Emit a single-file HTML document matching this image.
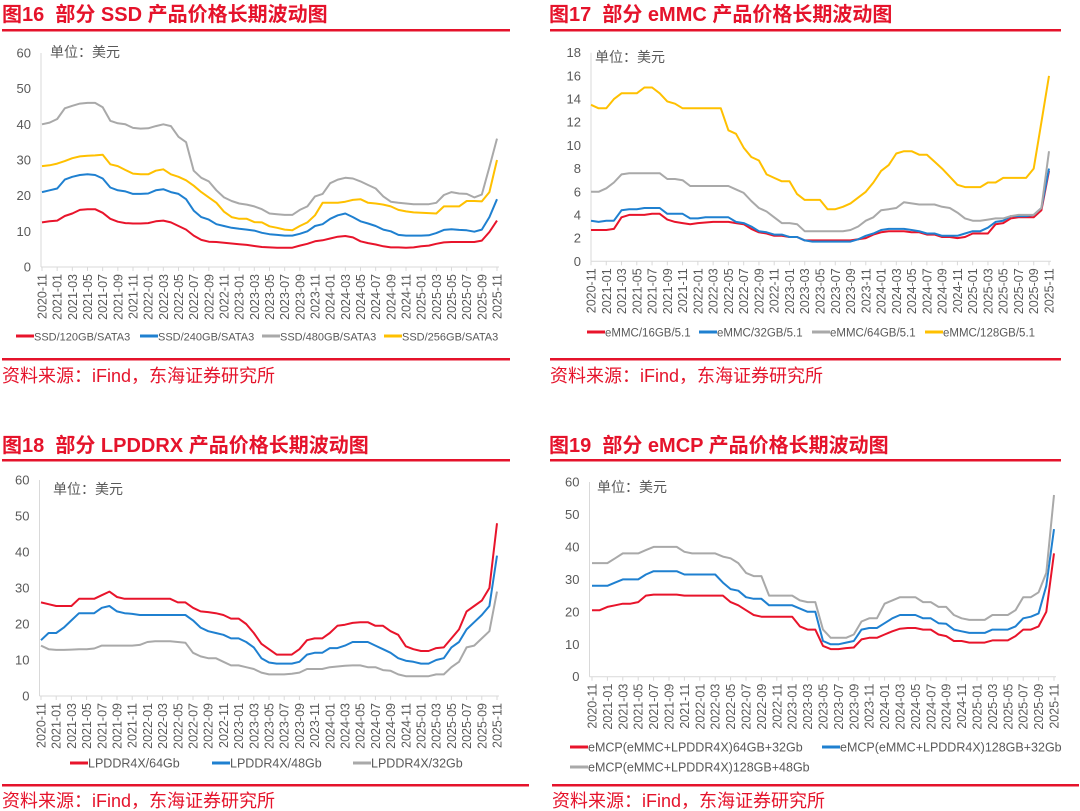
<!DOCTYPE html>
<html><head><meta charset="utf-8">
<style>
body{margin:0;background:#fff;width:1080px;height:811px;overflow:hidden;font-family:"Liberation Sans","Noto Sans CJK SC",sans-serif;}
svg{position:absolute;left:0;top:0;}
</style></head>
<body>
<svg id="svg" width="1080" height="811" viewBox="0 0 1080 811" xmlns="http://www.w3.org/2000/svg">
<g font-family="Liberation Sans, Noto Sans CJK SC, sans-serif" font-weight="bold" font-size="20" fill="#e5132b">
<text x="2" y="21">图16&#160; 部分 SSD 产品价格长期波动图</text>
<text x="549" y="21">图17&#160; 部分 eMMC 产品价格长期波动图</text>
<text x="2" y="452">图18&#160; 部分 LPDDRX 产品价格长期波动图</text>
<text x="549" y="452">图19&#160; 部分 eMCP 产品价格长期波动图</text>
</g>
<g fill="#e5132b">
<rect x="2" y="29" width="508" height="2.5"/>
<rect x="550" y="29" width="511" height="2.5"/>
<rect x="2" y="358" width="508" height="2.5"/>
<rect x="550" y="358" width="511" height="2.5"/>
<rect x="2" y="459" width="508" height="2.5"/>
<rect x="550" y="459" width="511" height="2.5"/>
<rect x="2" y="784" width="527" height="2.5"/>
<rect x="552" y="784" width="527" height="2.5"/>
</g>
<g font-family="Liberation Sans, Noto Sans CJK SC, sans-serif" font-size="18" fill="#e5132b">
<text x="2" y="382">资料来源：iFind，东海证券研究所</text>
<text x="550" y="382">资料来源：iFind，东海证券研究所</text>
<text x="2" y="807">资料来源：iFind，东海证券研究所</text>
<text x="552" y="807">资料来源：iFind，东海证券研究所</text>
</g>
</svg>
<script>
// shared month categories 2020-11 .. 2025-11
const months = [];
for (let y = 2020, m = 11; !(y === 2025 && m === 12); ) { months.push(y + '-' + String(m).padStart(2, '0')); m++; if (m > 12) { m = 1; y++; } }

// Fig16 SSD
const ssdTicks = [0,10,20,30,40,50,60];
const ssd120 = [12.5,12.8,13,14.3,15,16,16.2,16.2,15.2,13.5,12.7,12.3,12.2,12.2,12.3,12.8,13,12.5,11.5,10.5,8.8,7.6,7.1,7,6.8,6.6,6.4,6.2,5.9,5.6,5.5,5.4,5.4,5.4,6,6.5,7.2,7.5,8,8.5,8.7,8.3,7.2,6.7,6.3,5.8,5.5,5.5,5.4,5.5,5.8,6,6.5,6.9,7,7,7,7,7.4,9.8,13];
const ssd240 = [21,21.5,22,24.5,25.3,25.8,26,25.8,24.8,22.3,21.5,21.2,20.5,20.5,20.6,21.5,21.8,21,20.5,19,15.8,14,13.3,12,11.5,11,10.7,10.5,10.2,9.6,9.2,9,8.8,8.8,9.3,10,11.5,12,13.5,14.5,15,14,12.8,12.2,11.5,10.5,10,9,8.8,8.8,8.8,8.9,9.5,10.4,10.6,10.4,10.3,9.9,10.5,14,19];
const ssd480 = [40,40.5,41.5,44.5,45.2,45.8,46,46,44.8,41,40.3,40,39,38.8,38.9,39.5,40,39.5,36.5,35,27,25,24,21.5,19.5,18.5,17.8,17.5,17,16.2,15,14.8,14.6,14.6,16,17,19.8,20.5,23.5,24.5,25,24.8,24,23,22,19.8,18.3,18,17.8,17.6,17.6,17.6,18,20.2,21,20.6,20.5,19.5,20.3,28,36];
const ssd256 = [28.3,28.5,29,29.7,30.5,31,31.2,31.3,31.5,28.8,28.3,27.2,26.2,26,26,27,27.4,26,25.3,24.3,22.8,21,19.5,18,15.5,14,13.5,13.5,12.6,12.5,11.4,11,10.5,10.3,11.5,12.5,14.5,18,18,18,18.3,18.8,19,18,17.8,17.5,17,16,15.6,15.3,15.2,15.1,15,17,17,17,18.5,18.5,18.4,21,30];

// Fig17 eMMC
const emmcTicks = [0,2,4,6,8,10,12,14,16,18];
const emmc16 = [2.7,2.7,2.7,2.8,3.8,4,4,4,4.1,4.1,3.6,3.4,3.3,3.2,3.3,3.35,3.4,3.4,3.4,3.3,3.2,2.8,2.5,2.4,2.2,2.2,2.1,2.1,1.8,1.8,1.8,1.8,1.8,1.8,1.8,1.9,2,2.3,2.5,2.6,2.6,2.6,2.5,2.5,2.3,2.3,2.1,2.1,2,2.1,2.4,2.4,2.4,3.2,3.3,3.7,3.8,3.8,3.8,4.4,7.8];
const emmc32 = [3.5,3.4,3.5,3.5,4.4,4.5,4.5,4.6,4.6,4.6,4.1,4.1,4.1,3.7,3.7,3.8,3.8,3.8,3.8,3.4,3.3,3,2.6,2.5,2.3,2.3,2.1,2.1,1.8,1.7,1.7,1.7,1.7,1.7,1.7,1.9,2.2,2.4,2.7,2.8,2.8,2.8,2.7,2.6,2.4,2.4,2.2,2.2,2.2,2.4,2.6,2.6,2.9,3.4,3.5,3.9,3.9,3.9,4,4.6,8];
const emmc64 = [6,6,6.3,6.8,7.5,7.6,7.6,7.6,7.6,7.6,7.1,7.1,7,6.5,6.5,6.5,6.5,6.5,6.5,6.2,5.9,5.2,4.6,4.3,3.8,3.3,3.3,3.2,2.6,2.6,2.6,2.6,2.6,2.6,2.7,3,3.5,3.8,4.4,4.5,4.6,5.1,5,4.9,4.9,4.9,4.7,4.6,4.2,3.7,3.5,3.5,3.6,3.7,3.7,3.9,4,4,4,4.6,9.5];
const emmc128 = [13.5,13.2,13.2,14,14.5,14.5,14.5,15,15,14.5,13.8,13.6,13.2,13.2,13.2,13.2,13.2,13.2,11.3,11,9.8,9,8.7,7.5,7.2,6.9,6.9,5.8,5.3,5.3,5.3,4.5,4.5,4.7,5,5.5,6,6.8,7.8,8.3,9.3,9.5,9.5,9.2,9.2,8.6,8,7.3,6.6,6.4,6.4,6.4,6.8,6.8,7.2,7.2,7.2,7.2,8,12,16];

// Fig18 LPDDR4X
const lpTicks = [0,10,20,30,40,50,60];
const lp64 = [26,25.5,25,25,25,27,27,27,28,29,27.5,27,27,27,27,27,27,27,26,26,24.5,23.5,23.3,23,22.5,21.5,21.5,20,17.5,14.5,13,11.5,11.5,11.5,13,15.5,16,16,17.5,19.5,19.8,20.3,20.5,20.5,19.5,19.5,18,17,13.8,13,12.5,12.5,13.3,13.5,16,18.5,23.5,25,26.5,30,48];
const lp48 = [15.5,17.5,17.5,19,21,23,23,23,24.5,25,23.5,23,22.8,22.5,22.5,22.5,22.5,22.5,22.5,22.5,21,19,18,17.5,17,16,16,15,13.5,10.5,9.3,9,9,9,9.5,11.5,12,12,13.3,13.3,14,15,15,15,14,13,12,10.5,9.8,9.5,9,9,10,10.5,13.5,15,18.5,20.5,22.5,25,39];
const lp32 = [14,13,12.8,12.8,12.9,13,13,13.2,14,14,14,14,14,14.2,15,15.2,15.2,15.2,15,14.8,12,11,10.5,10.5,9.5,8.5,8.5,8,7.5,6.5,6,6,6,6.2,6.5,7.5,7.5,7.5,8,8.2,8.4,8.5,8.5,8,8,7.2,7,6,5.5,5.5,5.5,5.5,6,6,8,9.5,13.5,14,16,18,29];

// Fig19 eMCP
const emcpTicks = [0,10,20,30,40,50,60];
const emcpA = [20.5,20.5,21.5,22,22.5,22.5,23,25,25.3,25.3,25.3,25.3,25,25,25,25,25,25,23,22,20.5,19,18.5,18.5,18.5,18.5,18.5,15.5,14.5,14.5,9.5,8.5,8.5,8.8,9,11.5,12,12,13,14,14.8,15,15,14.5,14.5,13,12.5,11,11,10.5,10.5,10.5,11.2,11.2,11.2,12.5,14.5,14.5,15.5,20,38];
const emcpB = [28,28,28,29,30,30,30,31.5,32.5,32.5,32.5,32.5,31.5,31.5,31.5,31.5,31.5,29,27,26.5,24.5,24,24,22,22,22,22,21,20,20,11,10,10,10.5,11,14.5,15,15,16.5,18,19,19,19,18,18,16.5,16.3,14.5,14,13.5,13.5,13.5,14.5,14.5,14.5,15.5,18,18.5,19.5,28,45.5];
const emcpC = [35,35,35,36.5,38,38,38,39,40,40,40,40,38.5,38,38,38,38,37,36.5,35,32,31,31,25,25,25,25,23.5,23,23,14.5,12,12,12,13,17,18,18,22.5,23.5,24.5,24.5,24.5,23,23,21.5,21.5,19,18,17.5,17.5,17.5,19,19,19,20.5,24.5,24.5,26,32,56];

const RED='#e8142b', BLUE='#1f80d0', GRAY='#a9a9a9', YEL='#ffc000';
const NS='http://www.w3.org/2000/svg';
const svg=document.getElementById('svg');
function mk(tag,attrs,parent){const e=document.createElementNS(NS,tag);for(const k in attrs)e.setAttribute(k,attrs[k]);(parent||svg).appendChild(e);return e;}

function drawPanel(cfg){
  const g=mk('g',{});
  
  
  const maxV=cfg.ticks[cfg.ticks.length-1];
  const xs=i=>cfg.x0+(cfg.x1-cfg.x0)*i/(months.length-1);
  const ys=v=>cfg.yb-(cfg.yb-cfg.yt)*v/maxV;
  const ya=mk('line',{x1:cfg.ax,y1:cfg.yt,x2:cfg.ax,y2:cfg.yb,stroke:'#d9d9d9','stroke-width':1},g);
  
  
  const xa=mk('line',{x1:cfg.ax,y1:cfg.yb,x2:cfg.x1+2,y2:cfg.yb,stroke:'#d9d9d9','stroke-width':1},g);
  
  
  cfg.ticks.forEach(t=>{
    const tx=mk('text',{x:cfg.ax-10,y:ys(t)+4.5,'text-anchor':'end','font-size':13,fill:'#595959'},g);
    tx.textContent=t;
    
    
  });
  months.forEach((m,i)=>{
    if(i%2) return;
    const x=xs(i);
    const tk=mk('line',{x1:x,y1:cfg.yb,x2:x,y2:cfg.yb+4,stroke:'#d9d9d9'},g);
    
    
    const tx=mk('text',{x:0,y:0,'text-anchor':'end','font-size':12.5,fill:'#595959',transform:`translate(${x+4.5},${cfg.yb+7}) rotate(-90)`},g);
    tx.textContent=m;
    
    
  });
  const u=mk('text',{x:cfg.ux,y:cfg.uy,'font-size':14,fill:'#595959'},g);
  u.textContent='单位：美元';
  
  
  cfg.series.forEach(s=>{
    const p=mk('polyline',{points:s.data.map((v,i)=>xs(i).toFixed(1)+','+ys(v).toFixed(1)).join(' '),fill:'none',stroke:s.color,'stroke-width':2,'stroke-linejoin':'round'},g);
    
    
  });
  cfg.series.forEach(s=>{
    const lg=mk('g',{},g);
    
    
    mk('line',{x1:s.lx,y1:s.ly,x2:s.lx+18,y2:s.ly,stroke:s.color,'stroke-width':3},lg);
    const t=mk('text',{x:s.lx+18,y:s.ly+4.5,'font-size':cfg.lfs||12.5,fill:'#595959'},lg);
    t.textContent=s.label;
  });
}

drawPanel({name:'ssd-chart',ticks:ssdTicks,ax:41,x0:42,x1:497,yt:53,yb:267,ux:50,uy:57,lfs:11,series:[
  {id:'ssd-120gb',label:'SSD/120GB/SATA3',data:ssd120,color:RED,lx:16,ly:336},
  {id:'ssd-240gb',label:'SSD/240GB/SATA3',data:ssd240,color:BLUE,lx:140,ly:336},
  {id:'ssd-480gb',label:'SSD/480GB/SATA3',data:ssd480,color:GRAY,lx:262,ly:336},
  {id:'ssd-256gb',label:'SSD/256GB/SATA3',data:ssd256,color:YEL,lx:384,ly:336}]});
drawPanel({name:'emmc-chart',ticks:emmcTicks,ax:591,x0:591,x1:1049,yt:52.7,yb:261.3,ux:595,uy:62,lfs:11.5,series:[
  {id:'emmc-16gb',label:'eMMC/16GB/5.1',data:emmc16,color:RED,lx:587,ly:332},
  {id:'emmc-32gb',label:'eMMC/32GB/5.1',data:emmc32,color:BLUE,lx:699,ly:332},
  {id:'emmc-64gb',label:'eMMC/64GB/5.1',data:emmc64,color:GRAY,lx:812,ly:332},
  {id:'emmc-128gb',label:'eMMC/128GB/5.1',data:emmc128,color:YEL,lx:925,ly:332}]});
drawPanel({name:'lpddr-chart',ticks:lpTicks,ax:39.5,x0:41,x1:497,yt:480,yb:696,ux:53,uy:494,series:[
  {id:'lpddr4x-64gb',label:'LPDDR4X/64Gb',data:lp64,color:RED,lx:70,ly:763},
  {id:'lpddr4x-48gb',label:'LPDDR4X/48Gb',data:lp48,color:BLUE,lx:212,ly:763},
  {id:'lpddr4x-32gb',label:'LPDDR4X/32Gb',data:lp32,color:GRAY,lx:353,ly:763}]});
drawPanel({name:'emcp-chart',ticks:emcpTicks,ax:589.5,x0:592,x1:1054,yt:482,yb:676.7,ux:597,uy:492,series:[
  {id:'emcp-64gb-32gb',label:'eMCP(eMMC+LPDDR4X)64GB+32Gb',data:emcpA,color:RED,lx:570,ly:747},
  {id:'emcp-128gb-32gb',label:'eMCP(eMMC+LPDDR4X)128GB+32Gb',data:emcpB,color:BLUE,lx:822,ly:747},
  {id:'emcp-128gb-48gb',label:'eMCP(eMMC+LPDDR4X)128GB+48Gb',data:emcpC,color:GRAY,lx:570,ly:767}]});
</script>
</body></html>
